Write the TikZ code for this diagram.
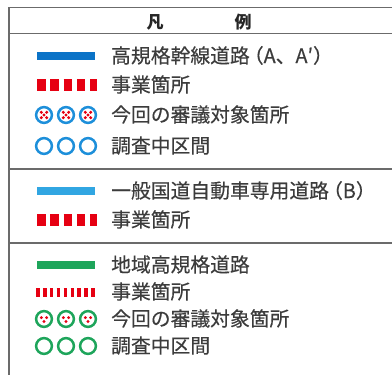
\documentclass[tikz,border=0pt]{standalone}
\usepackage{fontspec}
\newfontfamily\jp[FakeBold=0.4]{Noto Sans CJK JP}
\newfontfamily\jph{Noto Sans CJK JP}
\definecolor{blueA}{HTML}{0B73C7}
\definecolor{blueRing}{HTML}{1D8FDA}
\definecolor{blueB}{HTML}{31A6E2}
\definecolor{greenC}{HTML}{1EA55B}
\definecolor{redC}{HTML}{E60012}
\definecolor{frm}{HTML}{6B6B6B}
\definecolor{txt}{HTML}{3C3C3C}
\begin{document}
\begin{tikzpicture}[x=1pt,y=-1pt,
  lbl/.style={anchor=base west, inner sep=0pt, font=\jp\fontsize{19.8}{20}\selectfont, text=txt},
  hdr/.style={inner sep=0pt, font=\jph\bfseries\fontsize{17}{17}\selectfont, text=black!85},
  frame/.style={draw=frm, line width=1.5pt},
  bar/.style={line width=8.5pt},
  bigdash/.style={draw=redC, line width=12pt, dash pattern=on 8.5pt off 4.8pt},
  thindash/.style={draw=redC, line width=9pt, dash pattern=on 3.6pt off 3.3pt},
  ring/.style={line width=2.5pt, fill=white},
  rdot/.style={fill=redC, draw=none},
]
\useasboundingbox (0,0) rectangle (392,375);
% frame
\draw[frame] (392,7.5) -| (9,375);
\draw[frame] (9,33.5) -- (392,33.5);
\draw[frame] (9,169) -- (392,169);
\draw[frame] (9,243) -- (392,243);
% header
\node[hdr] (h1) at (155,22.5) {凡};
\node[hdr] (h2) at (243,22.5) {例};
% section 1
\draw[bar, draw=blueA] (37,56) -- (95,56);
\node[lbl] (t1) at (111,63) {高規格幹線道路\hspace{-0.3em}（A、A′）};
\draw[bigdash] (37,85) -- (97,85);
\node[lbl] (t2) at (111,92) {事業箇所};
\foreach \cx in {44,66,88}{
  \draw[ring, draw=blueRing] (\cx,115) circle (7.9);
  \foreach \dx/\dy in {-2.7/-2.7, 2.7/-2.7, 0/0, -2.7/2.7, 2.7/2.7}
    \fill[rdot] (\cx+\dx,115+\dy) circle (1.7);
}
\node[lbl] (t3) at (111,122) {今回の審議対象箇所};
\foreach \cx in {44,66,88}
  \draw[ring, draw=blueRing] (\cx,146) circle (7.9);
\node[lbl] (t4) at (111,153) {調査中区間};
% section 2
\draw[bar, draw=blueB] (37,191) -- (95,191);
\node[lbl] (t5) at (111,198) {一般国道自動車専用道路\hspace{-0.3em}（B）};
\draw[bigdash] (37,220) -- (97,220);
\node[lbl] (t6) at (111,227) {事業箇所};
% section 3
\draw[bar, draw=greenC] (37,265) -- (95,265);
\node[lbl] (t7) at (111,272) {地域高規格道路};
\draw[thindash] (36,292) -- (95,292);
\node[lbl] (t8) at (111,299) {事業箇所};
\foreach \cx in {44,66,88}{
  \draw[ring, draw=greenC] (\cx,319) circle (7.9);
  \foreach \dx/\dy in {-2.6/-1.4, 2.6/-1.4, 0/2.4}
    \fill[rdot] (\cx+\dx,319+\dy) circle (1.6);
}
\node[lbl] (t9) at (111,326) {今回の審議対象箇所};
\foreach \cx in {44,66,88}
  \draw[ring, draw=greenC] (\cx,346) circle (7.9);
\node[lbl] (t10) at (111,353) {調査中区間};
\end{tikzpicture}
\end{document}
